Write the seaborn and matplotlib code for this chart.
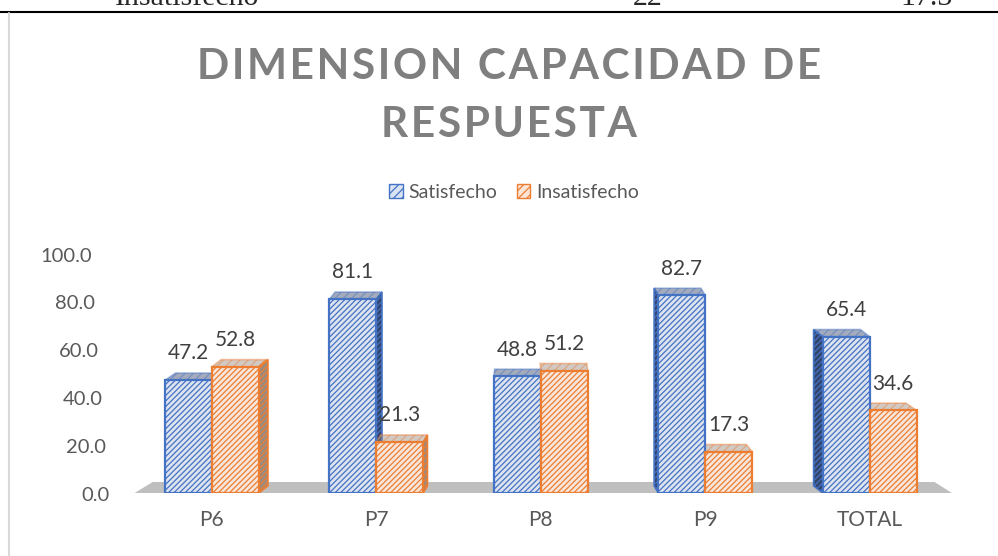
import matplotlib
matplotlib.use("Agg")
import matplotlib.pyplot as plt
import seaborn as sns
import pandas as pd
from matplotlib.patches import Polygon, Patch
from matplotlib.lines import Line2D

categories = ["P6", "P7", "P8", "P9", "TOTAL"]
satisfecho = [47.2, 81.1, 48.8, 82.7, 65.4]
insatisfecho = [52.8, 21.3, 51.2, 17.3, 34.6]
series = ["Satisfecho", "Insatisfecho"]
yticks = [0, 20, 40, 60, 80, 100]
title_lines = ["DIMENSION CAPACIDAD DE", "RESPUESTA"]
table_row = ["Insatisfecho", "22", "17.3"]

df = pd.DataFrame({
    "cat": categories * 2,
    "serie": [series[0]] * len(categories) + [series[1]] * len(categories),
    "valor": satisfecho + insatisfecho,
})

blue_edge, blue_face, blue_side = "#4472c4", "#dae3f3", "#33456b"
orange_edge, orange_face, orange_side = "#ed7d31", "#fbe5d6", "#9a8b80"
gray = "#595959"

sns.set_style("white")
plt.rcParams["font.family"] = ["Lato", "DejaVu Sans"]
plt.rcParams["hatch.linewidth"] = 0.9

fig = plt.figure(figsize=(9.98, 5.56), dpi=100)
ax = fig.add_axes([0.125, 63 / 556, 0.837, 239 / 556])

sns.barplot(data=df, x="cat", y="valor", hue="serie", order=categories,
            hue_order=series, palette=[blue_face, orange_face], width=0.57,
            gap=0, ax=ax, legend=False, zorder=3)

# floor of the 3d chart
ax.add_patch(Polygon([(-0.47, 0), (4.5, 0), (4.395, 4.6), (-0.36, 4.6)],
                     closed=True, color="#bfbfbf", zorder=1, lw=0))

edges = [blue_edge] * len(categories) + [orange_edge] * len(categories)
sides = [blue_side] * len(categories) + [orange_side] * len(categories)
vals = satisfecho + insatisfecho
dy = 3.0
for bar, ec, sc, v in zip(ax.patches, edges, sides, vals):
    bar.set_edgecolor(ec)
    bar.set_hatch("//////")
    bar.set_linewidth(1.6)
    x = bar.get_x()
    w = bar.get_width()
    h = bar.get_height()
    cx = x + w / 2
    dx = 0.03 * (2 - cx)
    # top face
    top = [(x, h), (x + w, h), (x + w + dx, h + dy), (x + dx, h + dy)]
    ax.add_patch(Polygon(top, closed=True, facecolor=sc, alpha=0.45,
                         edgecolor=ec, lw=1.2, hatch="////", zorder=2))
    # side face
    if abs(dx) > 0.015:
        sx = x + w if dx > 0 else x
        side = [(sx, 0), (sx, h), (sx + dx, h + dy), (sx + dx, dy)]
        ax.add_patch(Polygon(side, closed=True, facecolor=sc,
                             edgecolor=ec, lw=1.2, hatch="//////", zorder=2))
    ax.text(cx, h + dy + 4.0, f"{v:.1f}", ha="center", va="bottom",
            fontsize=15, color="#404040", zorder=5)

ax.set_ylim(0, 100)
ax.set_xlim(-0.53, 4.55)
ax.set_yticks([])
# value labels on the back wall, slightly slanted like the 3d axis
for t in yticks:
    ax.annotate(f"{t:.1f}", xy=(0, t), xycoords=("axes fraction", "data"),
                xytext=(-(10.8 + 0.13 * t), -1.5), textcoords="offset points",
                ha="right", va="center", fontsize=14.5, color=gray)
ax.tick_params(axis="x", labelsize=15, labelcolor=gray, length=0, pad=12)
ax.set_xlabel("")
ax.set_ylabel("")
for s in ax.spines.values():
    s.set_visible(False)

hs = "\u200a"
fig.text(0.51, 1 - 79 / 556, hs.join(title_lines[0]), ha="center", va="baseline",
         fontsize=30.5, fontweight="bold", color="#7f7f7f")
fig.text(0.51, 1 - 137 / 556, hs.join(title_lines[1]), ha="center", va="baseline",
         fontsize=30.5, fontweight="bold", color="#7f7f7f")

handles = [Patch(facecolor=blue_face, edgecolor=blue_edge, hatch="////", label=series[0]),
           Patch(facecolor=orange_face, edgecolor=orange_edge, hatch="////", label=series[1])]
fig.legend(handles=handles, loc="center", bbox_to_anchor=(0.515, 1 - 192 / 556), ncol=2,
           frameon=False, fontsize=14, handlelength=0.7, handleheight=0.7,
           handletextpad=0.3, columnspacing=1.0, labelcolor=gray)

# piece of the table above the chart
base = 1 - 5 / 556
fig.text(115 / 998, base, table_row[0], fontsize=21.5, family="Liberation Serif",
         va="baseline")
fig.text(648 / 998, base, table_row[1], fontsize=21.5, family="Liberation Serif",
         va="baseline", ha="center")
fig.text(953 / 998, base, table_row[2], fontsize=21.5, family="Liberation Serif",
         va="baseline", ha="right")
fig.add_artist(Line2D([0, 1], [1 - 12 / 556] * 2, color="black", lw=1.5))
fig.add_artist(Line2D([8.5 / 998] * 2, [0, 1 - 13 / 556], color="#d9d9d9", lw=1.5))

fig.savefig("out.png", dpi=100)
